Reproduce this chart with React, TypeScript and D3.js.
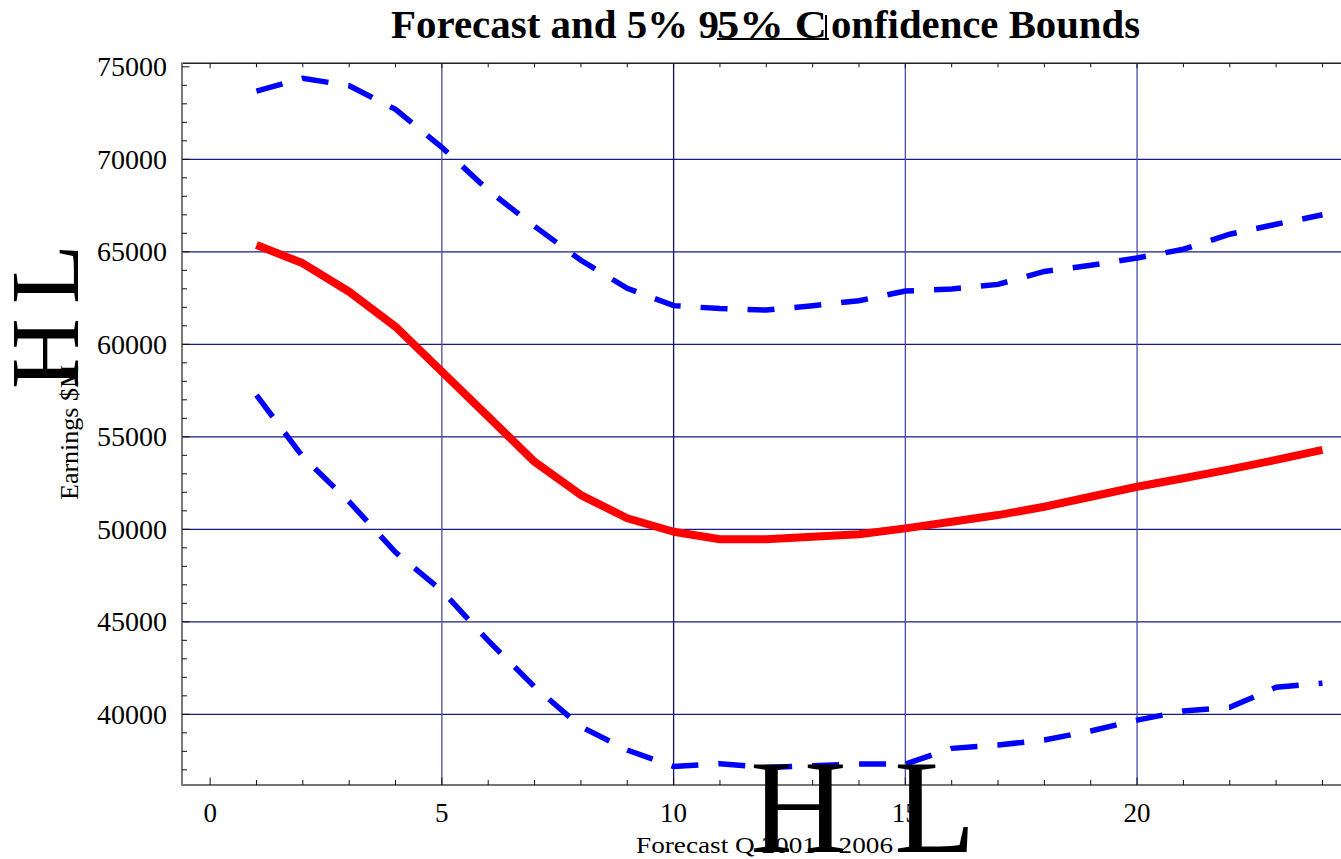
import React from "react";
import * as d3 from "d3";

const quarters = [1, 2, 3, 4, 5, 6, 7, 8, 9, 10, 11, 12, 13, 14, 15, 16, 17, 18, 19, 20, 21, 22, 23, 24];
const forecast = [65370, 64380, 62840, 60950, 58520, 56090, 53650, 51850, 50600, 49870, 49460, 49460, 49600, 49730, 50050, 50410, 50770, 51220, 51760, 52300, 52760, 53240, 53750, 54290];
const upper = [73690, 74380, 73980, 72700, 70650, 68330, 66380, 64540, 63030, 62090, 61930, 61850, 62090, 62360, 62880, 62990, 63240, 63940, 64270, 64670, 65140, 65950, 66490, 67000];
const lower = [57250, 53920, 51490, 48760, 46680, 43980, 41490, 39330, 38070, 37180, 37330, 37120, 37220, 37310, 37310, 38160, 38340, 38610, 39100, 39690, 40180, 40380, 41460, 41680];

const xTickLabels = [0, 5, 10, 15, 20];
const yTickLabels = [40000, 45000, 50000, 55000, 60000, 65000, 70000, 75000];
const xGrid = [5, 10, 15, 20];
const yGrid = [40000, 45000, 50000, 55000, 60000, 65000, 70000];

const titleParts = ["Forecast and 5% 9", "5% C", "onfidence Bounds"];
const xLabel = "Forecast Q 2001 - 2006";
const yLabel = "Earnings $M";

const FONT = "'Liberation Serif', 'Times New Roman', serif";

export default function App() {
  const x = d3.scaleLinear().domain([-0.607, 24.4]).range([182, 1341]);
  const y = d3.scaleLinear().domain([36180, 75190]).range([785, 63.3]);

  const mk = (vals: number[]) =>
    d3
      .line<number>()
      .x((_, i) => x(quarters[i]))
      .y((d) => y(d))(vals) || "";

  const xMinor = d3.range(0, 25);
  const yMinor = d3.range(37000, 75001, 1000);

  return (
    <svg
      width={1341}
      height={859}
      style={{ position: "absolute", left: 0, top: 0, background: "#fff" }}
      fontFamily={FONT}
    >
      <rect x={0} y={0} width={1341} height={859} fill="#fff" />
      {/* grid */}
      {yGrid.map((v) => (
        <line key={"gy" + v} x1={182} x2={1341} y1={y(v)} y2={y(v)} stroke="#1a1a88" strokeWidth={1.3} />
      ))}
      {xGrid.map((v) => (
        <line
          key={"gx" + v}
          x1={x(v)}
          x2={x(v)}
          y1={63.3}
          y2={785}
          stroke={v === 10 ? "#101060" : "#4a4aa8"}
          strokeWidth={1.3}
        />
      ))}
      {/* frame */}
      <line x1={182} x2={1341} y1={63.3} y2={63.3} stroke="#222" strokeWidth={1.5} />
      <line x1={182} x2={1341} y1={785} y2={785} stroke="#444" strokeWidth={1.6} />
      <line x1={182} x2={182} y1={62.5} y2={785.8} stroke="#7a7a7a" strokeWidth={2} />
      {/* ticks bottom & top */}
      {xMinor.map((v) => {
        const major = v % 5 === 0;
        return (
          <g key={"xt" + v}>
            <line x1={x(v)} x2={x(v)} y1={785} y2={785 - (major ? 7.5 : 5)} stroke="#111" strokeWidth={1} />
            <line x1={x(v)} x2={x(v)} y1={63.3} y2={63.3 + (major ? 5 : 4)} stroke="#111" strokeWidth={1} />
          </g>
        );
      })}
      {yMinor.map((v) => {
        const major = v % 5000 === 0;
        return (
          <line key={"yt" + v} x1={182} x2={182 + (major ? 7.5 : 5)} y1={y(v)} y2={y(v)} stroke="#111" strokeWidth={1} />
        );
      })}
      {/* tick labels */}
      {yTickLabels.map((v) => (
        <text key={"yl" + v} x={167} y={y(v)} dy="0.33em" textAnchor="end" fontSize={28} fill="#000">
          {v}
        </text>
      ))}
      {xTickLabels.map((v) => (
        <text key={"xl" + v} x={x(v)} y={822} textAnchor="middle" fontSize={27} fill="#000">
          {v}
        </text>
      ))}
      {/* series */}
      <path d={mk(upper)} fill="none" stroke="#0000ff" strokeWidth={5.5} strokeDasharray="27 20" />
      <path d={mk(lower)} fill="none" stroke="#0000ff" strokeWidth={5.5} strokeDasharray="27 20" />
      <path d={mk(forecast)} fill="none" stroke="#ff0000" strokeWidth={8} strokeLinejoin="round" />
      {/* title */}
      <g fontWeight="bold" fontSize={39} fill="#000">
        <text x={391} y={38} textLength={328} lengthAdjust="spacingAndGlyphs">{titleParts[0]}</text>
        <text x={717} y={38} textLength={110} lengthAdjust="spacingAndGlyphs">{titleParts[1]}</text>
        <text x={831} y={38} textLength={309} lengthAdjust="spacingAndGlyphs">{titleParts[2]}</text>
      </g>
      <line x1={717} x2={829} y1={39} y2={39} stroke="#000" strokeWidth={2} />
      <line x1={826} x2={826} y1={15} y2={38} stroke="#000" strokeWidth={2} />
      {/* x label */}
      <text x={636} y={853} fontSize={24} textLength={257} lengthAdjust="spacingAndGlyphs" fill="#000">
        {xLabel}
      </text>
      <text x={750} y={852} fontSize={134} fill="#000">H</text>
      <text x={894} y={852} fontSize={134} fill="#000">L</text>
      {/* y label */}
      <text transform="translate(78,500) rotate(-90)" fontSize={26} fill="#000">
        {yLabel}
      </text>
      <text transform="translate(78,389) rotate(-90)" fontSize={98} fill="#000">H</text>
      <text transform="translate(78,304) rotate(-90)" fontSize={98} fill="#000">L</text>
    </svg>
  );
}
